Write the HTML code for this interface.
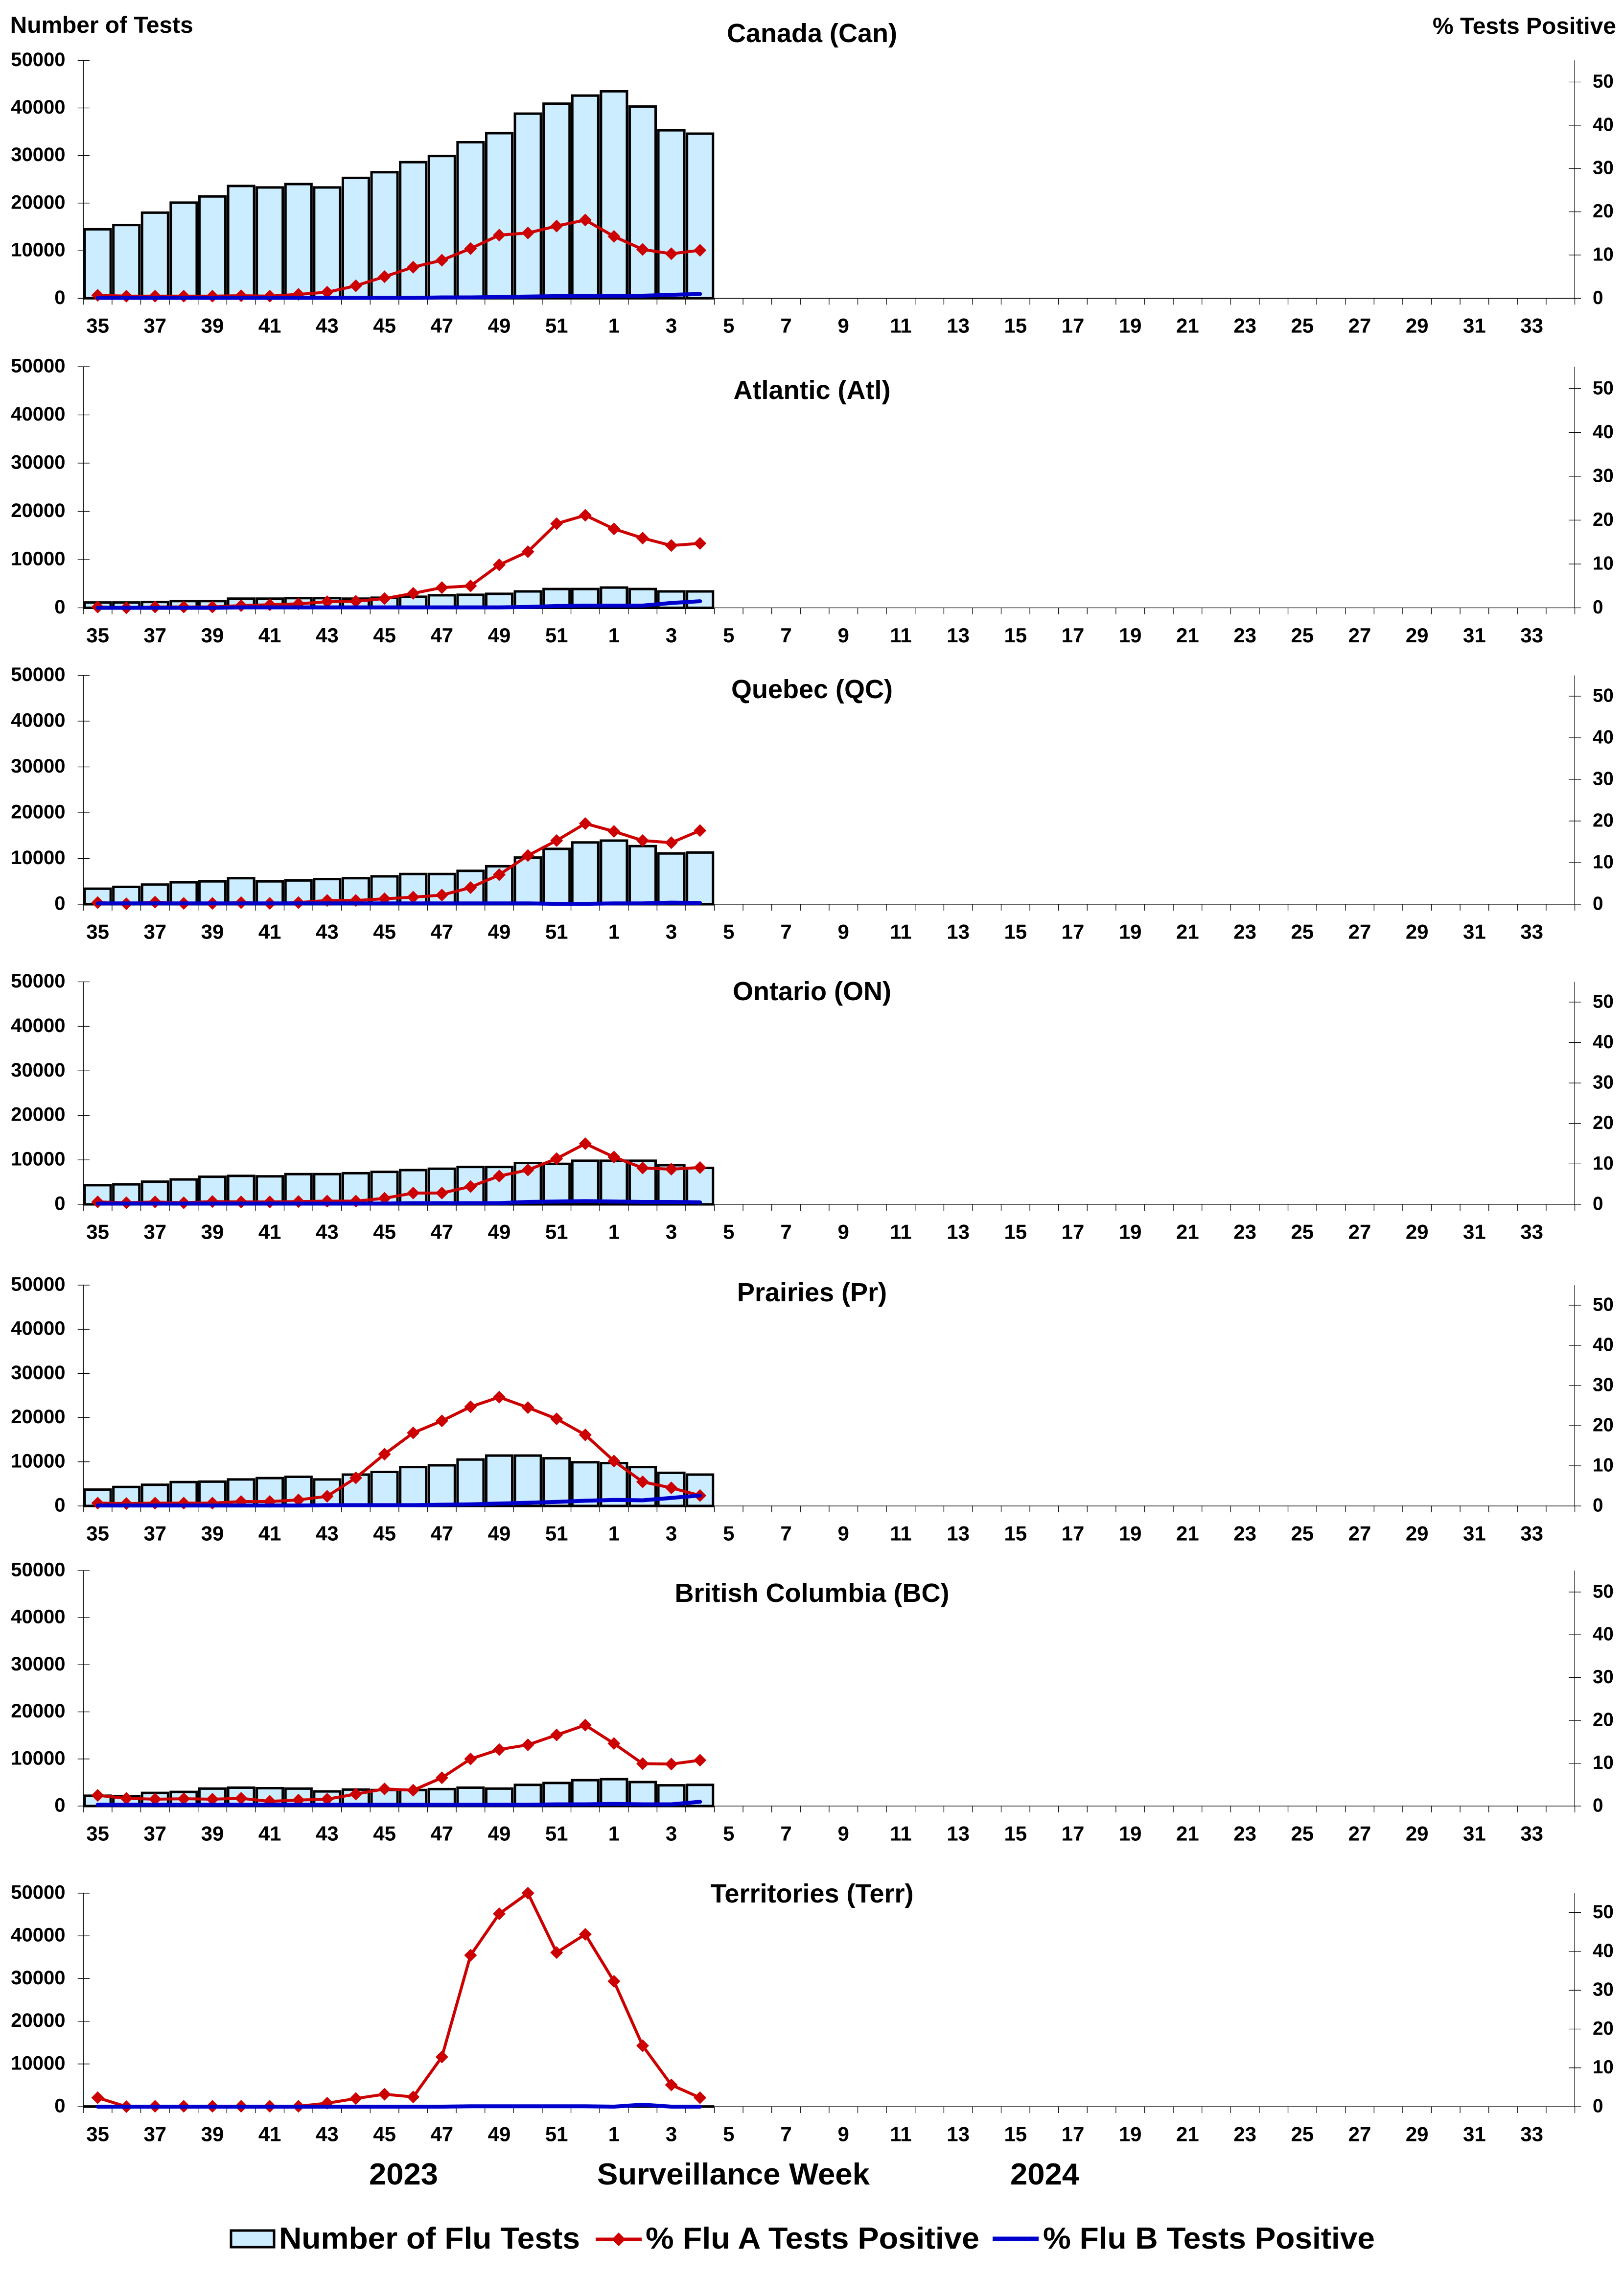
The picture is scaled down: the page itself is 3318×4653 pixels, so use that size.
<!DOCTYPE html>
<html><head><meta charset="utf-8"><title>Flu tests by region</title>
<style>
html,body{margin:0;padding:0;background:#fff}
svg{display:block}
text{font-family:"Liberation Sans",Arial,sans-serif;font-weight:bold;fill:#000}
.xl text{font-size:42px;text-anchor:middle}
.yl text{font-size:40px;text-anchor:end}
.yr text{font-size:38.5px}
.t{font-size:54px;text-anchor:middle}
.big{font-size:62px}
.bars rect{fill:#CCECFF;stroke:#000;stroke-width:5;vector-effect:non-scaling-stroke}
.blue{fill:none;stroke:#0000CC;stroke-width:8;stroke-linecap:round;stroke-linejoin:round;vector-effect:non-scaling-stroke}
.red{fill:none;stroke:#CC0000;stroke-width:6;stroke-linejoin:round;marker-start:url(#dm);marker-mid:url(#dm);marker-end:url(#dm)}
.ax{stroke:#000;stroke-width:1.3;fill:none}
</style></head>
<body>
<svg xmlns="http://www.w3.org/2000/svg" width="3318" height="4653" viewBox="0 0 3318 4653">
<defs>
<pattern id="tk" patternUnits="userSpaceOnUse" x="169.65" y="0" width="58.6" height="20"><rect x="0" y="0" width="1.3" height="20" fill="#000"/></pattern>
<marker id="dm" markerUnits="userSpaceOnUse" markerWidth="28" markerHeight="28" refX="14" refY="14" orient="0" overflow="visible"><path d="M1 14L14 1 27 14 14 27z" fill="#CC0000"/></marker>
</defs>
<rect width="3318" height="4653" fill="#fff"/>

<text x="20.7" y="67" style="font-size:47px" textLength="374" lengthAdjust="spacingAndGlyphs">Number of Tests</text>
<text x="2927" y="69" style="font-size:47px" textLength="375" lengthAdjust="spacingAndGlyphs">% Tests Positive</text>

<!-- ===== Panel 1 Canada ===== -->
<path class="ax" d="M170.3 123.3V609.3H3217.3V123.3M158.7 123.3H183M158.7 220.5H183M158.7 317.7H183M158.7 414.9H183M158.7 512.1H183M158.7 609.3H183M3205 167.5H3230M3205 255.9H3230M3205 344.2H3230M3205 432.6H3230M3205 520.9H3230M3205 609.3H3230"/>
<rect x="169.65" y="609.3" width="3049" height="13" fill="url(#tk)"/>
<g class="yl"><text x="133.5" y="134.8">50000</text><text x="133.5" y="232">40000</text><text x="133.5" y="329.2">30000</text><text x="133.5" y="426.4">20000</text><text x="133.5" y="523.6">10000</text><text x="133.5" y="620.8">0</text></g>
<g class="yr"><text x="3254" y="179">50</text><text x="3254" y="267.4">40</text><text x="3254" y="355.7">30</text><text x="3254" y="444.1">20</text><text x="3254" y="532.4">10</text><text x="3254" y="620.8">0</text></g>
<text class="t" x="1659" y="86">Canada (Can)</text>
<g class="bars" transform="translate(0 609.3) scale(1 -9.72)">
<rect x="173.05" width="53.1" height="14.5"/><rect x="231.65" width="53.1" height="15.4"/><rect x="290.25" width="53.1" height="18.0"/><rect x="348.85" width="53.1" height="20.1"/><rect x="407.45" width="53.1" height="21.4"/><rect x="466.05" width="53.1" height="23.6"/><rect x="524.65" width="53.1" height="23.3"/><rect x="583.25" width="53.1" height="24.0"/><rect x="641.85" width="53.1" height="23.3"/><rect x="700.45" width="53.1" height="25.3"/><rect x="759.05" width="53.1" height="26.5"/><rect x="817.65" width="53.1" height="28.6"/><rect x="876.25" width="53.1" height="29.9"/><rect x="934.85" width="53.1" height="32.8"/><rect x="993.45" width="53.1" height="34.7"/><rect x="1052.05" width="53.1" height="38.8"/><rect x="1110.65" width="53.1" height="40.9"/><rect x="1169.25" width="53.1" height="42.6"/><rect x="1227.85" width="53.1" height="43.5"/><rect x="1286.45" width="53.1" height="40.3"/><rect x="1345.05" width="53.1" height="35.3"/><rect x="1403.65" width="53.1" height="34.6"/>
</g>
<polyline class="red" points="199.6,603.1 258.2,604.9 316.8,604.9 375.4,604.9 434,604.9 492.6,604 551.2,604.9 609.8,601.3 668.4,596.9 727,583.7 785.6,565.1 844.2,545.7 902.8,531.5 961.4,507.7 1020,480.3 1078.6,475.9 1137.2,461.7 1195.8,449.4 1254.4,482.9 1313,509.5 1371.6,518.3 1430.2,511.2"/>
<polyline class="blue" transform="translate(0 609.3) scale(1 -8.836)" points="199.6,0.1 258.2,0.1 316.8,0.1 375.4,0.1 434,0.1 492.6,0.1 551.2,0.1 609.8,0.1 668.4,0.1 727,0.1 785.6,0.1 844.2,0.1 902.8,0.2 961.4,0.2 1020,0.3 1078.6,0.4 1137.2,0.5 1195.8,0.5 1254.4,0.6 1313,0.6 1371.6,0.8 1430.2,1.0"/>
<g class="xl" transform="translate(0 679.3)"><text x="199.6">35</text><text x="316.8">37</text><text x="434">39</text><text x="551.2">41</text><text x="668.4">43</text><text x="785.6">45</text><text x="902.8">47</text><text x="1020">49</text><text x="1137.2">51</text><text x="1254.4">1</text><text x="1371.6">3</text><text x="1488.8">5</text><text x="1606">7</text><text x="1723.2">9</text><text x="1840.4">11</text><text x="1957.6">13</text><text x="2074.8">15</text><text x="2192">17</text><text x="2309.2">19</text><text x="2426.4">21</text><text x="2543.6">23</text><text x="2660.8">25</text><text x="2778">27</text><text x="2895.2">29</text><text x="3012.4">31</text><text x="3129.6">33</text></g>

<!-- ===== Panel 2 Atlantic ===== -->
<path class="ax" d="M170.3 749V1241.5H3217.3V749M158.7 749H183M158.7 847.5H183M158.7 946H183M158.7 1044.5H183M158.7 1143H183M158.7 1241.5H183M3205 793.8H3230M3205 883.3H3230M3205 972.9H3230M3205 1062.4H3230M3205 1152H3230M3205 1241.5H3230"/>
<rect x="169.65" y="1241.5" width="3049" height="13" fill="url(#tk)"/>
<g class="yl"><text x="133.5" y="760.5">50000</text><text x="133.5" y="859">40000</text><text x="133.5" y="957.5">30000</text><text x="133.5" y="1056">20000</text><text x="133.5" y="1154.5">10000</text><text x="133.5" y="1253">0</text></g>
<g class="yr"><text x="3254" y="805.3">50</text><text x="3254" y="894.8">40</text><text x="3254" y="984.4">30</text><text x="3254" y="1073.9">20</text><text x="3254" y="1163.5">10</text><text x="3254" y="1253">0</text></g>
<text class="t" x="1659" y="815">Atlantic (Atl)</text>
<g class="bars" transform="translate(0 1241.5) scale(1 -9.85)">
<rect x="173.05" width="53.1" height="1.1"/><rect x="231.65" width="53.1" height="1.1"/><rect x="290.25" width="53.1" height="1.2"/><rect x="348.85" width="53.1" height="1.4"/><rect x="407.45" width="53.1" height="1.4"/><rect x="466.05" width="53.1" height="1.9"/><rect x="524.65" width="53.1" height="1.9"/><rect x="583.25" width="53.1" height="2.0"/><rect x="641.85" width="53.1" height="2.0"/><rect x="700.45" width="53.1" height="1.9"/><rect x="759.05" width="53.1" height="2.1"/><rect x="817.65" width="53.1" height="2.3"/><rect x="876.25" width="53.1" height="2.6"/><rect x="934.85" width="53.1" height="2.7"/><rect x="993.45" width="53.1" height="2.9"/><rect x="1052.05" width="53.1" height="3.4"/><rect x="1110.65" width="53.1" height="3.9"/><rect x="1169.25" width="53.1" height="3.9"/><rect x="1227.85" width="53.1" height="4.2"/><rect x="1286.45" width="53.1" height="3.9"/><rect x="1345.05" width="53.1" height="3.4"/><rect x="1403.65" width="53.1" height="3.4"/>
</g>
<polyline class="red" points="199.6,1239.7 258.2,1241.5 316.8,1239.7 375.4,1239.7 434,1239.7 492.6,1237 551.2,1235.2 609.8,1233.4 668.4,1229 727,1228.1 785.6,1222.7 844.2,1211.9 902.8,1200.3 961.4,1196.7 1020,1153.7 1078.6,1126.9 1137.2,1069.6 1195.8,1052.5 1254.4,1080.3 1313,1099.1 1371.6,1114.3 1430.2,1109.9"/>
<polyline class="blue" transform="translate(0 1241.5) scale(1 -8.955)" points="199.6,0 258.2,0 316.8,0 375.4,0 434,0 492.6,0.1 551.2,0.1 609.8,0.1 668.4,0.1 727,0.1 785.6,0.1 844.2,0.1 902.8,0.1 961.4,0.1 1020,0.1 1078.6,0.2 1137.2,0.4 1195.8,0.5 1254.4,0.5 1313,0.5 1371.6,1.1 1430.2,1.5"/>
<g class="xl" transform="translate(0 1312)"><text x="199.6">35</text><text x="316.8">37</text><text x="434">39</text><text x="551.2">41</text><text x="668.4">43</text><text x="785.6">45</text><text x="902.8">47</text><text x="1020">49</text><text x="1137.2">51</text><text x="1254.4">1</text><text x="1371.6">3</text><text x="1488.8">5</text><text x="1606">7</text><text x="1723.2">9</text><text x="1840.4">11</text><text x="1957.6">13</text><text x="2074.8">15</text><text x="2192">17</text><text x="2309.2">19</text><text x="2426.4">21</text><text x="2543.6">23</text><text x="2660.8">25</text><text x="2778">27</text><text x="2895.2">29</text><text x="3012.4">31</text><text x="3129.6">33</text></g>

<!-- ===== Panel 3 Quebec ===== -->
<path class="ax" d="M170.3 1379.5V1847H3217.3V1379.5M158.7 1379.5H183M158.7 1473H183M158.7 1566.5H183M158.7 1660H183M158.7 1753.5H183M158.7 1847H183M3205 1422H3230M3205 1507H3230M3205 1592H3230M3205 1677H3230M3205 1762H3230M3205 1847H3230"/>
<rect x="169.65" y="1847" width="3049" height="13" fill="url(#tk)"/>
<g class="yl"><text x="133.5" y="1391">50000</text><text x="133.5" y="1484.5">40000</text><text x="133.5" y="1578">30000</text><text x="133.5" y="1671.5">20000</text><text x="133.5" y="1765">10000</text><text x="133.5" y="1858.5">0</text></g>
<g class="yr"><text x="3254" y="1433.5">50</text><text x="3254" y="1518.5">40</text><text x="3254" y="1603.5">30</text><text x="3254" y="1688.5">20</text><text x="3254" y="1773.5">10</text><text x="3254" y="1858.5">0</text></g>
<text class="t" x="1659" y="1426">Quebec (QC)</text>
<g class="bars" transform="translate(0 1847) scale(1 -9.35)">
<rect x="173.05" width="53.1" height="3.4"/><rect x="231.65" width="53.1" height="3.8"/><rect x="290.25" width="53.1" height="4.3"/><rect x="348.85" width="53.1" height="4.8"/><rect x="407.45" width="53.1" height="5.0"/><rect x="466.05" width="53.1" height="5.7"/><rect x="524.65" width="53.1" height="5.0"/><rect x="583.25" width="53.1" height="5.2"/><rect x="641.85" width="53.1" height="5.5"/><rect x="700.45" width="53.1" height="5.7"/><rect x="759.05" width="53.1" height="6.1"/><rect x="817.65" width="53.1" height="6.6"/><rect x="876.25" width="53.1" height="6.6"/><rect x="934.85" width="53.1" height="7.3"/><rect x="993.45" width="53.1" height="8.3"/><rect x="1052.05" width="53.1" height="10.2"/><rect x="1110.65" width="53.1" height="12.1"/><rect x="1169.25" width="53.1" height="13.5"/><rect x="1227.85" width="53.1" height="13.9"/><rect x="1286.45" width="53.1" height="12.7"/><rect x="1345.05" width="53.1" height="11.1"/><rect x="1403.65" width="53.1" height="11.3"/>
</g>
<polyline class="red" points="199.6,1843.6 258.2,1846.1 316.8,1842.7 375.4,1845.3 434,1845.3 492.6,1843.6 551.2,1845.3 609.8,1843.6 668.4,1839.3 727,1839.3 785.6,1835.9 844.2,1832.5 902.8,1828.3 961.4,1813 1020,1786.6 1078.6,1747.5 1137.2,1716.9 1195.8,1682.1 1254.4,1698.2 1313,1716.9 1371.6,1721.2 1430.2,1696.5"/>
<polyline class="blue" transform="translate(0 1847) scale(1 -8.5)" points="199.6,0.2 258.2,0.2 316.8,0.2 375.4,0.2 434,0.2 492.6,0.2 551.2,0.2 609.8,0.2 668.4,0.2 727,0.2 785.6,0.2 844.2,0.2 902.8,0.2 961.4,0.2 1020,0.2 1078.6,0.2 1137.2,0.1 1195.8,0.1 1254.4,0.2 1313,0.2 1371.6,0.4 1430.2,0.3"/>
<g class="xl" transform="translate(0 1917.5)"><text x="199.6">35</text><text x="316.8">37</text><text x="434">39</text><text x="551.2">41</text><text x="668.4">43</text><text x="785.6">45</text><text x="902.8">47</text><text x="1020">49</text><text x="1137.2">51</text><text x="1254.4">1</text><text x="1371.6">3</text><text x="1488.8">5</text><text x="1606">7</text><text x="1723.2">9</text><text x="1840.4">11</text><text x="1957.6">13</text><text x="2074.8">15</text><text x="2192">17</text><text x="2309.2">19</text><text x="2426.4">21</text><text x="2543.6">23</text><text x="2660.8">25</text><text x="2778">27</text><text x="2895.2">29</text><text x="3012.4">31</text><text x="3129.6">33</text></g>

<!-- ===== Panel 4 Ontario ===== -->
<path class="ax" d="M170.3 2005.5V2460H3217.3V2005.5M158.7 2005.5H183M158.7 2096.4H183M158.7 2187.3H183M158.7 2278.2H183M158.7 2369.1H183M158.7 2460H183M3205 2046.8H3230M3205 2129.4H3230M3205 2212.1H3230M3205 2294.7H3230M3205 2377.4H3230M3205 2460H3230"/>
<rect x="169.65" y="2460" width="3049" height="13" fill="url(#tk)"/>
<g class="yl"><text x="133.5" y="2017">50000</text><text x="133.5" y="2107.9">40000</text><text x="133.5" y="2198.8">30000</text><text x="133.5" y="2289.7">20000</text><text x="133.5" y="2380.6">10000</text><text x="133.5" y="2471.5">0</text></g>
<g class="yr"><text x="3254" y="2058.3">50</text><text x="3254" y="2140.9">40</text><text x="3254" y="2223.6">30</text><text x="3254" y="2306.2">20</text><text x="3254" y="2388.9">10</text><text x="3254" y="2471.5">0</text></g>
<text class="t" x="1659" y="2043">Ontario (ON)</text>
<g class="bars" transform="translate(0 2460) scale(1 -9.09)">
<rect x="173.05" width="53.1" height="4.3"/><rect x="231.65" width="53.1" height="4.5"/><rect x="290.25" width="53.1" height="5.1"/><rect x="348.85" width="53.1" height="5.6"/><rect x="407.45" width="53.1" height="6.2"/><rect x="466.05" width="53.1" height="6.4"/><rect x="524.65" width="53.1" height="6.3"/><rect x="583.25" width="53.1" height="6.8"/><rect x="641.85" width="53.1" height="6.8"/><rect x="700.45" width="53.1" height="7.0"/><rect x="759.05" width="53.1" height="7.3"/><rect x="817.65" width="53.1" height="7.7"/><rect x="876.25" width="53.1" height="8.0"/><rect x="934.85" width="53.1" height="8.4"/><rect x="993.45" width="53.1" height="8.4"/><rect x="1052.05" width="53.1" height="9.3"/><rect x="1110.65" width="53.1" height="9.1"/><rect x="1169.25" width="53.1" height="9.8"/><rect x="1227.85" width="53.1" height="9.8"/><rect x="1286.45" width="53.1" height="9.8"/><rect x="1345.05" width="53.1" height="8.8"/><rect x="1403.65" width="53.1" height="8.2"/>
</g>
<polyline class="red" points="199.6,2455 258.2,2456.7 316.8,2455 375.4,2456.7 434,2454.2 492.6,2455 551.2,2455 609.8,2454.2 668.4,2453.4 727,2453.4 785.6,2447.6 844.2,2436.9 902.8,2436.9 961.4,2423.6 1020,2402.2 1078.6,2389.8 1137.2,2366.6 1195.8,2336 1254.4,2363.3 1313,2385.6 1371.6,2388.1 1430.2,2384.8"/>
<polyline class="blue" transform="translate(0 2460) scale(1 -8.264)" points="199.6,0.2 258.2,0.2 316.8,0.2 375.4,0.2 434,0.2 492.6,0.2 551.2,0.2 609.8,0.2 668.4,0.2 727,0.2 785.6,0.2 844.2,0.3 902.8,0.3 961.4,0.3 1020,0.3 1078.6,0.6 1137.2,0.7 1195.8,0.8 1254.4,0.7 1313,0.6 1371.6,0.6 1430.2,0.5"/>
<g class="xl" transform="translate(0 2530.5)"><text x="199.6">35</text><text x="316.8">37</text><text x="434">39</text><text x="551.2">41</text><text x="668.4">43</text><text x="785.6">45</text><text x="902.8">47</text><text x="1020">49</text><text x="1137.2">51</text><text x="1254.4">1</text><text x="1371.6">3</text><text x="1488.8">5</text><text x="1606">7</text><text x="1723.2">9</text><text x="1840.4">11</text><text x="1957.6">13</text><text x="2074.8">15</text><text x="2192">17</text><text x="2309.2">19</text><text x="2426.4">21</text><text x="2543.6">23</text><text x="2660.8">25</text><text x="2778">27</text><text x="2895.2">29</text><text x="3012.4">31</text><text x="3129.6">33</text></g>

<!-- ===== Panel 5 Prairies ===== -->
<path class="ax" d="M170.3 2625V3076H3217.3V2625M158.7 2625H183M158.7 2715.2H183M158.7 2805.4H183M158.7 2895.6H183M158.7 2985.8H183M158.7 3076H183M3205 2666H3230M3205 2748H3230M3205 2830H3230M3205 2912H3230M3205 2994H3230M3205 3076H3230"/>
<rect x="169.65" y="3076" width="3049" height="13" fill="url(#tk)"/>
<g class="yl"><text x="133.5" y="2636.5">50000</text><text x="133.5" y="2726.7">40000</text><text x="133.5" y="2816.9">30000</text><text x="133.5" y="2907.1">20000</text><text x="133.5" y="2997.3">10000</text><text x="133.5" y="3087.5">0</text></g>
<g class="yr"><text x="3254" y="2677.5">50</text><text x="3254" y="2759.5">40</text><text x="3254" y="2841.5">30</text><text x="3254" y="2923.5">20</text><text x="3254" y="3005.5">10</text><text x="3254" y="3087.5">0</text></g>
<text class="t" x="1659" y="2658">Prairies (Pr)</text>
<g class="bars" transform="translate(0 3076) scale(1 -9.02)">
<rect x="173.05" width="53.1" height="3.7"/><rect x="231.65" width="53.1" height="4.3"/><rect x="290.25" width="53.1" height="4.8"/><rect x="348.85" width="53.1" height="5.4"/><rect x="407.45" width="53.1" height="5.5"/><rect x="466.05" width="53.1" height="6.0"/><rect x="524.65" width="53.1" height="6.3"/><rect x="583.25" width="53.1" height="6.6"/><rect x="641.85" width="53.1" height="6.0"/><rect x="700.45" width="53.1" height="7.1"/><rect x="759.05" width="53.1" height="7.7"/><rect x="817.65" width="53.1" height="8.8"/><rect x="876.25" width="53.1" height="9.2"/><rect x="934.85" width="53.1" height="10.5"/><rect x="993.45" width="53.1" height="11.4"/><rect x="1052.05" width="53.1" height="11.4"/><rect x="1110.65" width="53.1" height="10.8"/><rect x="1169.25" width="53.1" height="9.9"/><rect x="1227.85" width="53.1" height="9.7"/><rect x="1286.45" width="53.1" height="8.8"/><rect x="1345.05" width="53.1" height="7.5"/><rect x="1403.65" width="53.1" height="7.1"/>
</g>
<polyline class="red" points="199.6,3070.3 258.2,3071.1 316.8,3070.3 375.4,3070.3 434,3070.3 492.6,3067 551.2,3067 609.8,3063.7 668.4,3056.3 727,3018.6 785.6,2970.2 844.2,2926.8 902.8,2902.2 961.4,2873.5 1020,2853.8 1078.6,2875.1 1137.2,2898.1 1195.8,2930.9 1254.4,2984.2 1313,3026.8 1371.6,3039.1 1430.2,3054.7"/>
<polyline class="blue" transform="translate(0 3076) scale(1 -8.2)" points="199.6,0.1 258.2,0.1 316.8,0.1 375.4,0.1 434,0.1 492.6,0.1 551.2,0.1 609.8,0.1 668.4,0.2 727,0.2 785.6,0.2 844.2,0.2 902.8,0.3 961.4,0.4 1020,0.6 1078.6,0.8 1137.2,1.0 1195.8,1.3 1254.4,1.5 1313,1.4 1371.6,2.0 1430.2,2.6"/>
<g class="xl" transform="translate(0 3146.5)"><text x="199.6">35</text><text x="316.8">37</text><text x="434">39</text><text x="551.2">41</text><text x="668.4">43</text><text x="785.6">45</text><text x="902.8">47</text><text x="1020">49</text><text x="1137.2">51</text><text x="1254.4">1</text><text x="1371.6">3</text><text x="1488.8">5</text><text x="1606">7</text><text x="1723.2">9</text><text x="1840.4">11</text><text x="1957.6">13</text><text x="2074.8">15</text><text x="2192">17</text><text x="2309.2">19</text><text x="2426.4">21</text><text x="2543.6">23</text><text x="2660.8">25</text><text x="2778">27</text><text x="2895.2">29</text><text x="3012.4">31</text><text x="3129.6">33</text></g>

<!-- ===== Panel 6 British Columbia ===== -->
<path class="ax" d="M170.3 3208V3689H3217.3V3208M158.7 3208H183M158.7 3304.2H183M158.7 3400.4H183M158.7 3496.6H183M158.7 3592.8H183M158.7 3689H183M3205 3251.8H3230M3205 3339.2H3230M3205 3426.7H3230M3205 3514.1H3230M3205 3601.6H3230M3205 3689H3230"/>
<rect x="169.65" y="3689" width="3049" height="13" fill="url(#tk)"/>
<g class="yl"><text x="133.5" y="3219.5">50000</text><text x="133.5" y="3315.7">40000</text><text x="133.5" y="3411.9">30000</text><text x="133.5" y="3508.1">20000</text><text x="133.5" y="3604.3">10000</text><text x="133.5" y="3700.5">0</text></g>
<g class="yr"><text x="3254" y="3263.3">50</text><text x="3254" y="3350.7">40</text><text x="3254" y="3438.2">30</text><text x="3254" y="3525.6">20</text><text x="3254" y="3613.1">10</text><text x="3254" y="3700.5">0</text></g>
<text class="t" x="1659" y="3272">British Columbia (BC)</text>
<g class="bars" transform="translate(0 3689) scale(1 -9.62)">
<rect x="173.05" width="53.1" height="2.2"/><rect x="231.65" width="53.1" height="2.1"/><rect x="290.25" width="53.1" height="2.8"/><rect x="348.85" width="53.1" height="3.0"/><rect x="407.45" width="53.1" height="3.7"/><rect x="466.05" width="53.1" height="3.9"/><rect x="524.65" width="53.1" height="3.8"/><rect x="583.25" width="53.1" height="3.7"/><rect x="641.85" width="53.1" height="3.1"/><rect x="700.45" width="53.1" height="3.5"/><rect x="759.05" width="53.1" height="3.4"/><rect x="817.65" width="53.1" height="3.4"/><rect x="876.25" width="53.1" height="3.6"/><rect x="934.85" width="53.1" height="3.9"/><rect x="993.45" width="53.1" height="3.7"/><rect x="1052.05" width="53.1" height="4.5"/><rect x="1110.65" width="53.1" height="4.9"/><rect x="1169.25" width="53.1" height="5.5"/><rect x="1227.85" width="53.1" height="5.7"/><rect x="1286.45" width="53.1" height="5.1"/><rect x="1345.05" width="53.1" height="4.4"/><rect x="1403.65" width="53.1" height="4.5"/>
</g>
<polyline class="red" points="199.6,3667.1 258.2,3673.3 316.8,3675 375.4,3674.1 434,3675 492.6,3673.3 551.2,3679.4 609.8,3676.8 668.4,3675 727,3664.5 785.6,3654 844.2,3656.6 902.8,3631.3 961.4,3592.8 1020,3573.6 1078.6,3563.9 1137.2,3543.8 1195.8,3523.7 1254.4,3561.3 1313,3602.4 1371.6,3603.3 1430.2,3595.4"/>
<polyline class="blue" transform="translate(0 3689) scale(1 -8.745)" points="199.6,0.3 258.2,0.3 316.8,0.3 375.4,0.3 434,0.3 492.6,0.3 551.2,0.3 609.8,0.3 668.4,0.3 727,0.3 785.6,0.3 844.2,0.3 902.8,0.3 961.4,0.3 1020,0.3 1078.6,0.3 1137.2,0.4 1195.8,0.4 1254.4,0.5 1313,0.4 1371.6,0.4 1430.2,1.0"/>
<g class="xl" transform="translate(0 3759.5)"><text x="199.6">35</text><text x="316.8">37</text><text x="434">39</text><text x="551.2">41</text><text x="668.4">43</text><text x="785.6">45</text><text x="902.8">47</text><text x="1020">49</text><text x="1137.2">51</text><text x="1254.4">1</text><text x="1371.6">3</text><text x="1488.8">5</text><text x="1606">7</text><text x="1723.2">9</text><text x="1840.4">11</text><text x="1957.6">13</text><text x="2074.8">15</text><text x="2192">17</text><text x="2309.2">19</text><text x="2426.4">21</text><text x="2543.6">23</text><text x="2660.8">25</text><text x="2778">27</text><text x="2895.2">29</text><text x="3012.4">31</text><text x="3129.6">33</text></g>

<!-- ===== Panel 7 Territories ===== -->
<path class="ax" d="M170.3 3867V4303H3217.3V3867M158.7 3867H183M158.7 3954.2H183M158.7 4041.4H183M158.7 4128.6H183M158.7 4215.8H183M158.7 4303H183M3205 3906.6H3230M3205 3985.9H3230M3205 4065.2H3230M3205 4144.5H3230M3205 4223.7H3230M3205 4303H3230"/>
<rect x="169.65" y="4303" width="3049" height="13" fill="url(#tk)"/>
<g class="yl"><text x="133.5" y="3878.5">50000</text><text x="133.5" y="3965.7">40000</text><text x="133.5" y="4052.9">30000</text><text x="133.5" y="4140.1">20000</text><text x="133.5" y="4227.3">10000</text><text x="133.5" y="4314.5">0</text></g>
<g class="yr"><text x="3254" y="3918.1">50</text><text x="3254" y="3997.4">40</text><text x="3254" y="4076.7">30</text><text x="3254" y="4156">20</text><text x="3254" y="4235.2">10</text><text x="3254" y="4314.5">0</text></g>
<text class="t" x="1659" y="3886">Territories (Terr)</text>
<g class="bars" transform="translate(0 4303) scale(1 -8.72)">
<rect x="173.05" width="1283.7" height="0.05"/>
</g>
<polyline class="red" points="199.6,4284.8 258.2,4303 316.8,4302.2 375.4,4302.2 434,4302.2 492.6,4302.2 551.2,4302.2 609.8,4302.2 668.4,4295.9 727,4286.4 785.6,4277.6 844.2,4283.2 902.8,4201.5 961.4,3993.8 1020,3909 1078.6,3867 1137.2,3988.3 1195.8,3951 1254.4,4047 1313,4178.5 1371.6,4258.6 1430.2,4284.8"/>
<polyline class="blue" transform="translate(0 4303) scale(1 -7.927)" points="199.6,0 258.2,0 316.8,0 375.4,0 434,0 492.6,0 551.2,0 609.8,0 668.4,0 727,0 785.6,0 844.2,0 902.8,0 961.4,0.1 1020,0.1 1078.6,0.1 1137.2,0.1 1195.8,0.1 1254.4,0 1313,0.5 1371.6,0 1430.2,0"/>
<g class="xl" transform="translate(0 4373.5)"><text x="199.6">35</text><text x="316.8">37</text><text x="434">39</text><text x="551.2">41</text><text x="668.4">43</text><text x="785.6">45</text><text x="902.8">47</text><text x="1020">49</text><text x="1137.2">51</text><text x="1254.4">1</text><text x="1371.6">3</text><text x="1488.8">5</text><text x="1606">7</text><text x="1723.2">9</text><text x="1840.4">11</text><text x="1957.6">13</text><text x="2074.8">15</text><text x="2192">17</text><text x="2309.2">19</text><text x="2426.4">21</text><text x="2543.6">23</text><text x="2660.8">25</text><text x="2778">27</text><text x="2895.2">29</text><text x="3012.4">31</text><text x="3129.6">33</text></g>

<!-- ===== Bottom axis titles ===== -->
<text class="big" x="754" y="4462" textLength="141" lengthAdjust="spacingAndGlyphs">2023</text>
<text class="big" x="1220" y="4462" textLength="557" lengthAdjust="spacingAndGlyphs">Surveillance Week</text>
<text class="big" x="2064" y="4462" textLength="141" lengthAdjust="spacingAndGlyphs">2024</text>

<!-- ===== Legend ===== -->
<rect x="472" y="4556" width="88" height="34" fill="#CCECFF" stroke="#000" stroke-width="5"/>
<text class="big" x="570" y="4593" textLength="615" lengthAdjust="spacingAndGlyphs">Number of Flu Tests</text>
<path d="M1217 4574H1311" stroke="#CC0000" stroke-width="7" fill="none"/>
<path d="M1250 4574l14-14 14 14-14 14z" fill="#CC0000"/>
<text class="big" x="1319" y="4593" textLength="682" lengthAdjust="spacingAndGlyphs">% Flu A Tests Positive</text>
<path d="M2028 4573H2122" stroke="#0000CC" stroke-width="9" fill="none"/>
<text class="big" x="2131" y="4593" textLength="678" lengthAdjust="spacingAndGlyphs">% Flu B Tests Positive</text>
</svg>
</body></html>
